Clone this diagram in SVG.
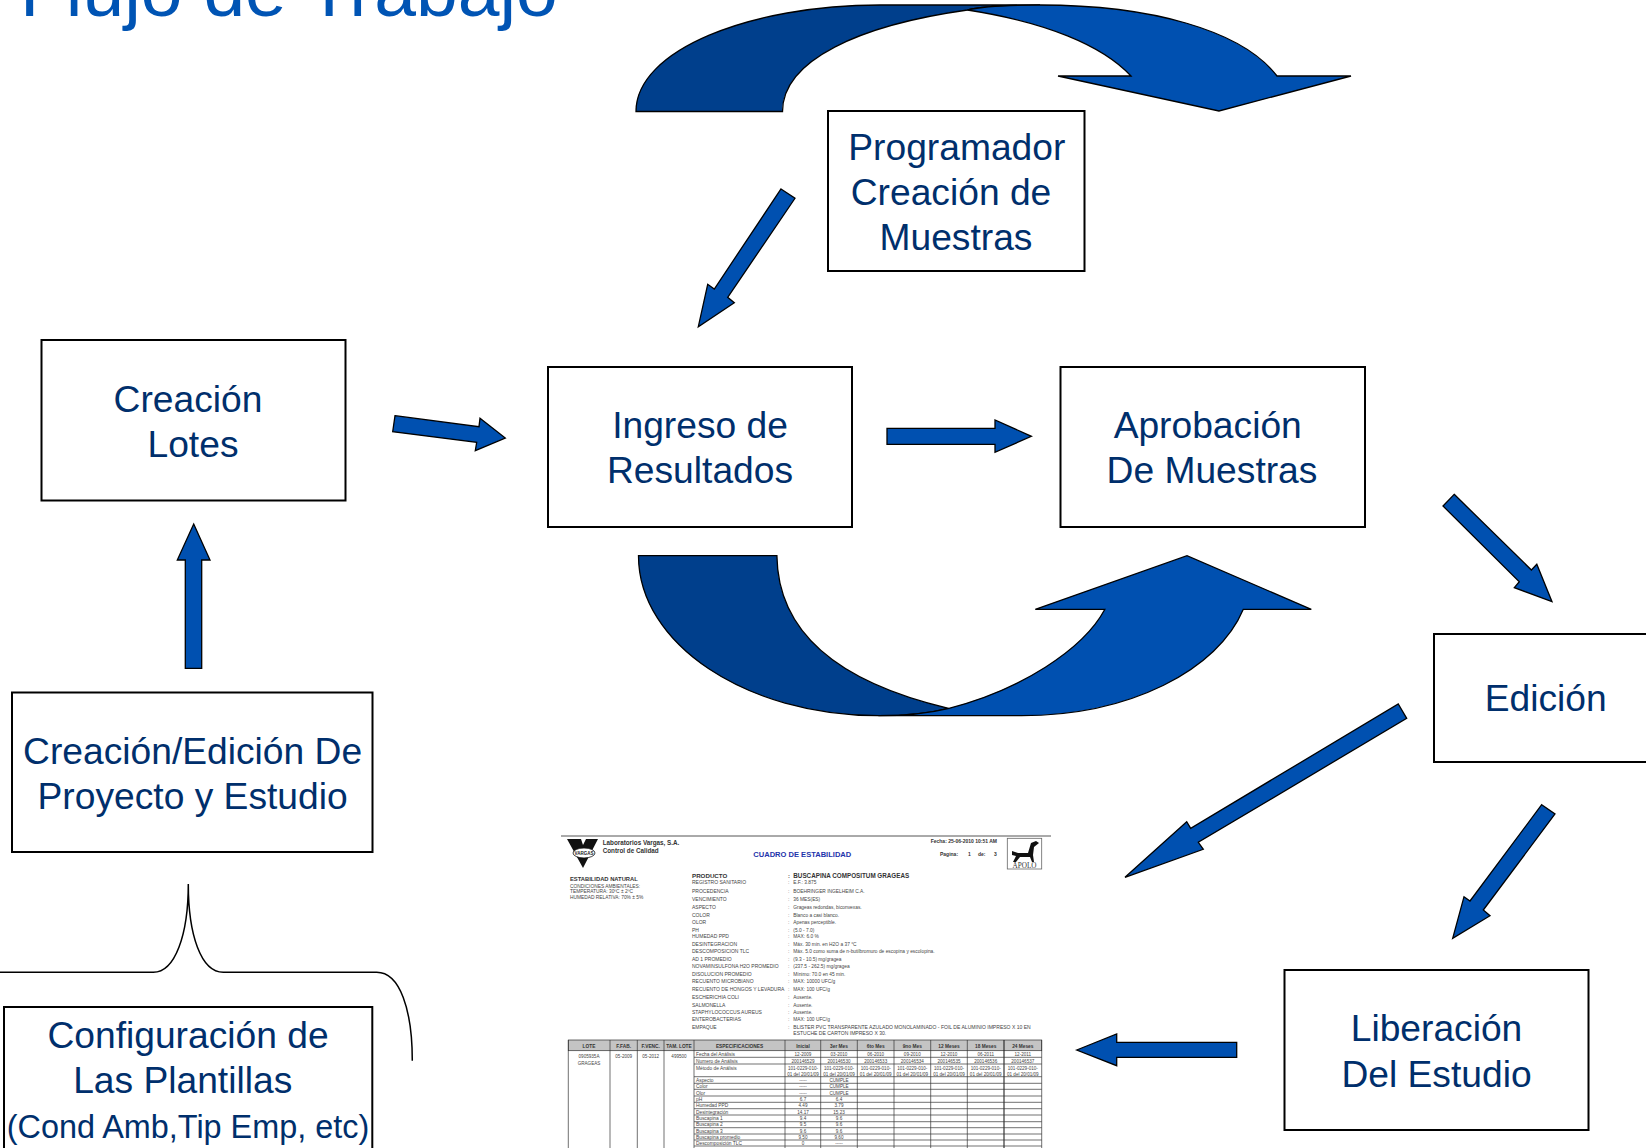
<svg xmlns="http://www.w3.org/2000/svg" width="1646" height="1148" viewBox="0 0 1646 1148">
<style>
text{font-family:"Liberation Sans",Arial,sans-serif}
.box{fill:#fff;stroke:#000;stroke-width:2}
.lbl{font-size:37.2px;fill:#002f6c;text-anchor:middle}
.ar{fill:#0050b0;stroke:#000;stroke-width:1.3}
.dk{fill:#003f8c;stroke:#000;stroke-width:1.3}
.brace{fill:none;stroke:#000;stroke-width:1.5}
.l{font-size:5px;fill:#444}
.v{font-size:4.85px;fill:#444}
.h{font-size:5.8px;fill:#333;font-weight:bold}
.t{font-size:4.6px;fill:#444;text-anchor:middle}
.th{font-size:4.8px;fill:#333;font-weight:bold;text-anchor:middle}
.g{stroke:#333;stroke-width:.7;fill:none}
</style>
<rect width="1646" height="1148" fill="#fff"/>
<text id="title" x="20" y="16" font-size="75" fill="#0054b4">Flujo de Trabajo</text>

<g id="connectors">
<path class="dk" d="M636,111.5C636,50 750,5 880,5L1040,5C1010,5 985,6 967.5,10C860,25 782.5,60 782.5,111.5Z"/>
<path class="ar" d="M967.5,10C1045,22 1102,45 1131,76L1058,76L1219,111L1351,76L1277,76C1242,30 1150,5 1040,5C1010,5 985,6 967.5,10Z"/>
<path class="dk" d="M638.5,555.7C638.5,644 746,715.7 878.4,715.7C905,715.7 930,713 948.6,708.3C850,685 778,640 776.9,555.7Z"/>
<path class="ar" d="M949,708.3C1020,690 1083,650 1104.9,609.3L1035.3,609.3L1187,555.7L1311.3,609.3L1243.3,609.3C1218,670 1130,715.7 1021.5,715.7L878.4,715.7C905,715.7 930,713 949,708.3Z"/>
<polygon class="ar" points="781,189 795,198.3 727.7,297.3 734.3,302.7 698.3,326.7 707.7,284.3 714.3,289"/>
<polygon class="ar" points="395,415.7 479,426.7 480,418.3 505.3,438 475.3,450.7 476.7,442.3 392.7,431.7"/>
<polygon class="ar" points="887,428.3 995,428.3 995,420 1031.4,436.3 995,452.3 995,444.3 887,444.3"/>
<polygon class="ar" points="1454.2,494.3 1531.4,570 1536.8,564.3 1552,601.7 1514.3,587.7 1519.3,581.7 1443,506"/>
<polygon class="ar" points="1398.3,704 1406.7,718.3 1198.3,842.3 1203.3,849.3 1125,877.3 1186.7,821.7 1190.7,828.3"/>
<polygon class="ar" points="1541.7,804.7 1555,814 1483.3,910 1490,915.7 1452.7,938.3 1464,896.7 1470,901"/>
<polygon class="ar" points="193.7,524 210,560 201.7,560 201.7,668.3 185.3,668.3 185.3,560 177.3,560"/>
<polygon class="ar" points="1076.7,1050 1116.7,1034 1116.7,1042.3 1236.7,1042.3 1236.7,1057.3 1116.7,1057.3 1116.7,1065.7"/>
<path class="brace" d="M0,972.3H153.3C175,972.3 188.3,935 188.3,884C188.3,935 201,972.3 223.3,972.3H376.7C400,972.3 412.3,1010 412.3,1060.7"/>
</g>

<g id="programador"><rect class="box" x="828" y="111" width="256.5" height="160"/>
<text class="lbl" x="956.8" y="160">Programador</text><text class="lbl" x="951" y="205">Creación de</text><text class="lbl" x="956" y="250">Muestras</text></g>
<g id="creacion-lotes"><rect class="box" x="41.5" y="340" width="304" height="160.5"/>
<text class="lbl" x="188" y="412">Creación</text><text class="lbl" x="193" y="457">Lotes</text></g>
<g id="ingreso"><rect class="box" x="548" y="367" width="304" height="160"/>
<text class="lbl" x="700" y="438">Ingreso de</text><text class="lbl" x="700" y="483">Resultados</text></g>
<g id="aprobacion"><rect class="box" x="1060.5" y="367" width="304.5" height="160"/>
<text class="lbl" x="1207.7" y="438">Aprobación</text><text class="lbl" x="1212" y="483">De Muestras</text></g>
<g id="edicion"><rect class="box" x="1434" y="634" width="220" height="128"/>
<text class="lbl" x="1545.7" y="711">Edición</text></g>
<g id="proyecto"><rect class="box" x="12" y="692.5" width="360.5" height="159.5"/>
<text class="lbl" x="192.6" y="764">Creación/Edición De</text><text class="lbl" x="192.6" y="809">Proyecto y Estudio</text></g>
<g id="plantillas"><rect class="box" x="4" y="1007" width="368.3" height="160"/>
<text class="lbl" x="188" y="1048">Configuración de</text><text class="lbl" x="182.7" y="1093">Las Plantillas</text><text class="lbl" style="font-size:32.4px" x="188" y="1138">(Cond Amb,Tip Emp, etc)</text></g>
<g id="liberacion"><rect class="box" x="1284.5" y="970" width="304" height="160"/>
<text class="lbl" x="1436.5" y="1041">Liberación</text><text class="lbl" x="1436.5" y="1086.5">Del Estudio</text></g>

<g id="reporte">
<line x1="561" y1="836" x2="1051" y2="836" stroke="#555" stroke-width="1"/>
<path d="M567,839H581L583,845L586,839H598L583,868Z" fill="#111"/>
<ellipse cx="584" cy="853" rx="11" ry="5" fill="#fff" stroke="#111" stroke-width=".8"/>
<text x="584" y="855" font-size="4.5" font-weight="bold" text-anchor="middle" fill="#222">VARGAS</text>
<text class="h" x="602.7" y="845" style="font-size:6.3px">Laboratorios Vargas, S.A.</text>
<text class="h" x="602.7" y="853" style="font-size:6.3px">Control de Calidad</text>
<text x="753.3" y="857" font-size="7.55" font-weight="bold" fill="#2233aa">CUADRO DE ESTABILIDAD</text>
<text x="930.7" y="843" font-size="5" font-weight="bold" fill="#333">Fecha: 25-06-2010 10:51 AM</text>
<text x="940" y="855.7" font-size="5" font-weight="bold" fill="#333">Pagina:</text><text x="968" y="855.7" font-size="5" font-weight="bold" fill="#333">1</text><text x="978" y="855.7" font-size="5" font-weight="bold" fill="#333">de:</text><text x="994" y="855.7" font-size="5" font-weight="bold" fill="#333">3</text>
<rect x="1007.3" y="838.3" width="34.4" height="30.7" fill="#fff" stroke="#666" stroke-width=".8"/>
<path d="M1012,851L1018,853L1028,853L1031,843L1036,841L1039,843L1034,847L1033,855L1034,862L1032,862L1030,857L1020,857L1016,862L1013,862L1016,856L1012,855Z" fill="#111"/>
<text x="1024.5" y="868" font-size="7.2" text-anchor="middle" fill="#333" style="font-family:'Liberation Serif',serif">APOLO</text>

<text class="h" x="570" y="881">ESTABILIDAD NATURAL</text>
<text class="v" x="570" y="887.7">CONDICIONES AMBIENTALES:</text>
<text class="v" x="570" y="893.3">TEMPERATURA: 30ºC ± 2ºC</text>
<text class="v" x="570" y="899.3">HUMEDAD RELATIVA: 70% ± 5%</text>

<text class="h" x="692" y="877.5" style="font-size:6.2px">PRODUCTO</text>
<text class="h" x="793.3" y="877.5" style="font-size:6.3px">BUSCAPINA COMPOSITUM GRAGEAS</text>
<text class="h" x="788" y="877.5">:</text>
<g class="labels">
<text class="l" x="692" y="884.3">REGISTRO SANITARIO</text><text class="v" x="788" y="884.3">:</text><text class="v" x="793.3" y="884.3">E.F.: 3.875</text>
<text class="l" x="692" y="892.7">PROCEDENCIA</text><text class="v" x="788" y="892.7">:</text><text class="v" x="793.3" y="892.7">BOEHRINGER INGELHEIM C.A.</text>
<text class="l" x="692" y="900.7">VENCIMIENTO</text><text class="v" x="788" y="900.7">:</text><text class="v" x="793.3" y="900.7">36 MES(ES)</text>
<text class="l" x="692" y="908.7">ASPECTO</text><text class="v" x="788" y="908.7">:</text><text class="v" x="793.3" y="908.7">Grageas redondas, biconvexas.</text>
<text class="l" x="692" y="916.7">COLOR</text><text class="v" x="788" y="916.7">:</text><text class="v" x="793.3" y="916.7">Blanco a casi blanco.</text>
<text class="l" x="692" y="924">OLOR</text><text class="v" x="788" y="924">:</text><text class="v" x="793.3" y="924">Apenas perceptible.</text>
<text class="l" x="692" y="931.7">PH</text><text class="v" x="788" y="931.7">:</text><text class="v" x="793.3" y="931.7">(5.0 - 7.0)</text>
<text class="l" x="692" y="938.3">HUMEDAD PPD</text><text class="v" x="788" y="938.3">:</text><text class="v" x="793.3" y="938.3">MAX: 6.0 %</text>
<text class="l" x="692" y="946">DESINTEGRACION</text><text class="v" x="788" y="946">:</text><text class="v" x="793.3" y="946">Máx. 30 min. en H2O a 37 °C</text>
<text class="l" x="692" y="953.3">DESCOMPOSICION TLC</text><text class="v" x="788" y="953.3">:</text><text class="v" x="793.3" y="953.3">Máx. 5.0 como suma de n-butilbromuro de escopina y escolopina.</text>
<text class="l" x="692" y="960.7">AD 1 PROMEDIO</text><text class="v" x="788" y="960.7">:</text><text class="v" x="793.3" y="960.7">(9.3 - 10.5) mg/gragea</text>
<text class="l" x="692" y="968.3">NOVAMINSULFONA H2O PROMEDIO</text><text class="v" x="788" y="968.3">:</text><text class="v" x="793.3" y="968.3">(237.5 - 262.5) mg/gragea</text>
<text class="l" x="692" y="976">DISOLUCION PROMEDIO</text><text class="v" x="788" y="976">:</text><text class="v" x="793.3" y="976">Mínimo: 70.0 en 45 min.</text>
<text class="l" x="692" y="983.3">RECUENTO MICROBIANO</text><text class="v" x="788" y="983.3">:</text><text class="v" x="793.3" y="983.3">MAX: 10000 UFC/g</text>
<text class="l" x="692" y="991">RECUENTO DE HONGOS Y LEVADURA</text><text class="v" x="788" y="991">:</text><text class="v" x="793.3" y="991">MAX: 100 UFC/g</text>
<text class="l" x="692" y="999">ESCHERICHIA COLI</text><text class="v" x="788" y="999">:</text><text class="v" x="793.3" y="999">Ausente.</text>
<text class="l" x="692" y="1006.7">SALMONELLA</text><text class="v" x="788" y="1006.7">:</text><text class="v" x="793.3" y="1006.7">Ausente.</text>
<text class="l" x="692" y="1014">STAPHYLOCOCCUS AUREUS</text><text class="v" x="788" y="1014">:</text><text class="v" x="793.3" y="1014">Ausente.</text>
<text class="l" x="692" y="1021.3">ENTEROBACTERIAS</text><text class="v" x="788" y="1021.3">:</text><text class="v" x="793.3" y="1021.3">MAX: 100 UFC/g</text>
<text class="l" x="692" y="1029">EMPAQUE</text><text class="v" x="788" y="1029">:</text><text class="v" x="793.3" y="1029" style="font-size:5.05px">BLISTER PVC TRANSPARENTE AZULADO MONOLAMINADO - FOIL DE ALUMINIO IMPRESO X 10 EN</text>
<text class="v" x="793.3" y="1034.5" style="font-size:5.05px">ESTUCHE DE CARTON IMPRESO X 30.</text>
</g>

<rect x="568.3" y="1040" width="473.4" height="10.7" fill="#c4c4c4" stroke="#333" stroke-width=".7"/>
<path class="g" d="M568.3,1040V1148M610,1040V1148M637.3,1040V1148M664,1040V1148M694,1040V1148M785,1040V1148M820.7,1040V1148M857.3,1040V1148M894,1040V1148M930.7,1040V1148M967.3,1040V1148M1041.7,1040V1148"/>
<path d="M1004,1040V1148" stroke="#222" stroke-width="1.1"/>
<path class="g" d="M694,1057.3H1041.7M694,1064H1041.7M694,1076.7H1041.7M694,1083.3H1041.7M694,1089.3H1041.7M694,1096H1041.7M694,1102.3H1041.7M694,1108.7H1041.7M694,1115H1041.7M694,1121.7H1041.7M694,1127.7H1041.7M694,1134H1041.7M694,1140H1041.7M694,1146H1041.7"/>
<g>
<text class="th" x="589" y="1047.5">LOTE</text><text class="th" x="623.7" y="1047.5">F.FAB.</text><text class="th" x="650.7" y="1047.5">F.VENC.</text><text class="th" x="679" y="1047.5">TAM. LOTE</text><text class="th" x="739.5" y="1047.5">ESPECIFICACIONES</text><text class="th" x="803" y="1047.5">Inicial</text><text class="th" x="839" y="1047.5">3er Mes</text><text class="th" x="875.7" y="1047.5">6to Mes</text><text class="th" x="912.3" y="1047.5">9no Mes</text><text class="th" x="949" y="1047.5">12 Meses</text><text class="th" x="985.7" y="1047.5">18 Meses</text><text class="th" x="1022.8" y="1047.5">24 Meses</text>
<text class="t" x="589" y="1058">0905935A</text><text class="t" x="589" y="1065">GRAGEAS</text><text class="t" x="623.7" y="1058">05-2009</text><text class="t" x="650.7" y="1058">05-2012</text><text class="t" x="679" y="1058">499500</text>
<text class="v" x="696" y="1056">Fecha del Análisis</text><text class="t" x="803" y="1056">12-2009</text><text class="t" x="839" y="1056">03-2010</text><text class="t" x="875.7" y="1056">06-2010</text><text class="t" x="912.3" y="1056">09-2010</text><text class="t" x="949" y="1056">12-2010</text><text class="t" x="985.7" y="1056">06-2011</text><text class="t" x="1022.8" y="1056">12-2011</text>
<text class="v" x="696" y="1062.7">Numero de Análisis</text><text class="t" x="803" y="1062.7">200146529</text><text class="t" x="839" y="1062.7">200146530</text><text class="t" x="875.7" y="1062.7">200146533</text><text class="t" x="912.3" y="1062.7">200146534</text><text class="t" x="949" y="1062.7">200146535</text><text class="t" x="985.7" y="1062.7">200146536</text><text class="t" x="1022.8" y="1062.7">200146537</text>
<text class="v" x="696" y="1069.5">Método de Análisis</text>
<text class="t" x="803" y="1069.5">101-0229-010-</text><text class="t" x="839" y="1069.5">101-0229-010-</text><text class="t" x="875.7" y="1069.5">101-0229-010-</text><text class="t" x="912.3" y="1069.5">101-0229-010-</text><text class="t" x="949" y="1069.5">101-0229-010-</text><text class="t" x="985.7" y="1069.5">101-0229-010-</text><text class="t" x="1022.8" y="1069.5">101-0229-010-</text>
<text class="t" x="803" y="1075.5">01 del 20/01/09</text><text class="t" x="839" y="1075.5">01 del 20/01/09</text><text class="t" x="875.7" y="1075.5">01 del 20/01/09</text><text class="t" x="912.3" y="1075.5">01 del 20/01/09</text><text class="t" x="949" y="1075.5">01 del 20/01/09</text><text class="t" x="985.7" y="1075.5">01 del 20/01/09</text><text class="t" x="1022.8" y="1075.5">01 del 20/01/09</text>
<text class="v" x="696" y="1082">Aspecto</text><text class="t" x="803" y="1082">-----</text><text class="t" x="839" y="1082">CUMPLE</text>
<text class="v" x="696" y="1088">Color</text><text class="t" x="803" y="1088">-----</text><text class="t" x="839" y="1088">CUMPLE</text>
<text class="v" x="696" y="1094.7">Olor</text><text class="t" x="803" y="1094.7">-----</text><text class="t" x="839" y="1094.7">CUMPLE</text>
<text class="v" x="696" y="1101">pH</text><text class="t" x="803" y="1101">6.7</text><text class="t" x="839" y="1101">6.4</text>
<text class="v" x="696" y="1107.4">Humedad PPD</text><text class="t" x="803" y="1107.4">4.49</text><text class="t" x="839" y="1107.4">3.79</text>
<text class="v" x="696" y="1113.7">Desintegración</text><text class="t" x="803" y="1113.7">14.17</text><text class="t" x="839" y="1113.7">15.23</text>
<text class="v" x="696" y="1120.4">Buscapina 1</text><text class="t" x="803" y="1120.4">9.4</text><text class="t" x="839" y="1120.4">9.6</text>
<text class="v" x="696" y="1126.4">Buscapina 2</text><text class="t" x="803" y="1126.4">9.5</text><text class="t" x="839" y="1126.4">9.6</text>
<text class="v" x="696" y="1132.7">Buscapina 3</text><text class="t" x="803" y="1132.7">9.6</text><text class="t" x="839" y="1132.7">9.6</text>
<text class="v" x="696" y="1138.7">Buscapina promedio</text><text class="t" x="803" y="1138.7">9.50</text><text class="t" x="839" y="1138.7">9.60</text>
<text class="v" x="696" y="1144.7">Descomposición TLC</text><text class="t" x="803" y="1144.7">0</text><text class="t" x="839" y="1144.7">-----</text>
</g>
</g>
</svg>
